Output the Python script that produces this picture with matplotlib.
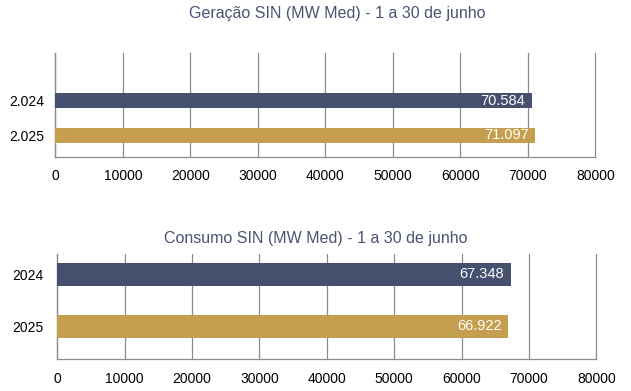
import matplotlib.pyplot as plt
from matplotlib.ticker import MultipleLocator

plt.rcParams['font.family'] = ['Liberation Sans', 'DejaVu Sans']

# dados
anos_geracao = ['2.024', '2.025']
geracao = [70584, 71097]
anos_consumo = ['2024', '2025']
consumo = [67348, 66922]

cores = ['#454F6E', '#C59F4F']
cor_titulo = '#4A5473'
cor_grade = '#8C8C8C'


def fmt_br(v):
    return f'{v:,.0f}'.replace(',', '.')


def desenha(ax, anos, valores, ylim, altura, pad_y):
    pos = list(range(len(anos)))
    ax.barh(pos, valores, height=altura, color=cores, zorder=3)
    for p, v in zip(pos, valores):
        ax.text(v - 1000, p, fmt_br(v), color='white', ha='right', va='center',
                fontsize=10.5, zorder=4)
    ax.set_xlim(0, 80000)
    ax.set_ylim(*ylim)
    ax.set_yticks(pos)
    ax.set_yticklabels(anos)
    ax.xaxis.set_major_locator(MultipleLocator(10000))
    ax.grid(axis='x', color=cor_grade, linewidth=0.9, zorder=0)
    for gl in ax.get_xgridlines():
        gl.set_clip_on(False)
    for s in ['top', 'right']:
        ax.spines[s].set_visible(False)
    for s in ['left', 'bottom']:
        ax.spines[s].set_color(cor_grade)
        ax.spines[s].set_linewidth(0.9)
    ax.tick_params(axis='both', length=0, labelsize=10, colors='black')
    ax.tick_params(axis='y', pad=pad_y)
    ax.tick_params(axis='x', pad=9)


fig = plt.figure(figsize=(6.31, 3.91), dpi=100)

ax1 = fig.add_axes([0.0878, 0.5992, 0.8558, 0.2660])
desenha(ax1, anos_geracao, geracao, (1.614, -1.386), 0.43, 8)
fig.text(0.535, 0.965, 'Geração SIN (MW Med) - 1 a 30 de junho', ha='center',
         va='center', fontsize=11.5, color=cor_titulo)

ax2 = fig.add_axes([0.0908, 0.0811, 0.8542, 0.2693])
desenha(ax2, anos_consumo, consumo, (1.63, -0.39), 0.43, 10)
fig.text(0.5, 0.391, 'Consumo SIN (MW Med) - 1 a 30 de junho', ha='center',
         va='center', fontsize=11.5, color=cor_titulo)

fig.savefig('out.png', dpi=100)
